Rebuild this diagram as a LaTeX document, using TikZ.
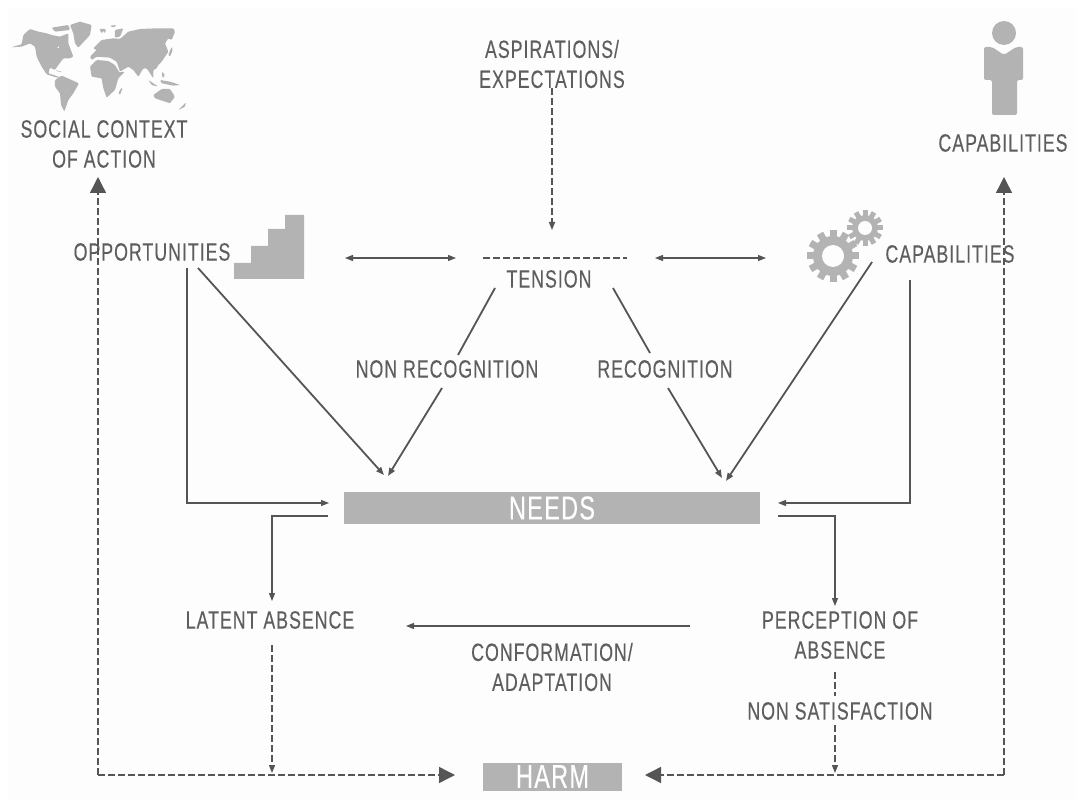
\documentclass[tikz,border=0pt]{standalone}
\usepackage{fontspec}
\setmainfont[FakeStretch=0.71,LetterSpace=4,FakeBold=0.25]{Liberation Sans}
\usetikzlibrary{arrows.meta}
\definecolor{ink}{HTML}{555555}
\definecolor{txt}{HTML}{5E5E5E}
\definecolor{iconc}{HTML}{B3B3B3}
\definecolor{paper}{HTML}{FDFDFD}
\tikzset{
  lab/.style={text=txt,align=center,inner sep=0pt,font=\fontsize{25}{30}\selectfont},
  blk/.style={fill=iconc,draw=none,text=white,inner sep=0pt,font=\fontsize{33}{30}\selectfont},
  thin line/.style={draw=ink,line width=1.2pt},
  heavy line/.style={draw=ink,line width=1.8pt},
  dash line/.style={draw=ink,line width=1.4pt,dash pattern=on 7pt off 3pt},
  small tip/.style={-{Triangle[length=8pt,width=6pt]}},
  both tip/.style={{Triangle[length=8pt,width=6pt]}-{Triangle[length=8pt,width=6pt]}},
  big tip/.style={-{Triangle[length=16pt,width=16pt]}},
  icon/.style={fill=iconc,draw=none,rounded corners=1pt}
}
\begin{document}
\begin{tikzpicture}[x=1pt,y=-1pt]
\useasboundingbox (0,0) rectangle (1076,799);
\fill[white] (0,0) rectangle (1076,799);
\fill[paper] (8,8) rectangle (1076,799);
% bars
\node[blk,minimum width=416pt,minimum height=32pt] (needs) at (552,508) {NEEDS};
\node[blk,minimum width=139pt,minimum height=28pt] (harm) at (552.5,776.5) {HARM};
% map: Americas
\begin{scope}[shift={(5,15)},x=0.3333pt,y=-0.3333pt]
\fill[icon] (18,97)--(50,88)--(55,60)--(75,42)--(100,50)--(125,55)--(140,60)--(165,65)--(190,55)--(190,85)--(205,125)--(195,130)--(175,130)--(160,150)--(150,165)--(135,158)--(130,175)--(155,183)--(170,190)--(150,186)--(125,178)--(110,155)--(95,125)--(90,95)--(75,85)--(50,95)--cycle;
\fill[paper] (160,97) circle (2.6);
\fill[icon] (140,38)--(190,30)--(195,45)--(150,50)--cycle;
\fill[icon] (195,30)--(225,20)--(260,30)--(255,60)--(220,98)--(210,85)--(205,55)--cycle;
\fill[icon] (150,195)--(170,182)--(200,195)--(222,205)--(205,235)--(190,255)--(178,290)--(168,270)--(165,235)--(150,215)--cycle;
\fill[icon] (150,165)--(175,172)--(160,170)--cycle;
\end{scope}
% map: Old World
\begin{scope}[shift={(90,15)},x=0.3333pt,y=-0.3333pt]
\fill[icon] (10,100)--(35,75)--(70,70)--(90,72)--(115,50)--(150,42)--(200,40)--(250,40)--(255,50)--(245,75)--(235,70)--(225,85)--(235,110)--(215,140)--(205,150)--(200,160)--(190,165)--(190,190)--(170,160)--(160,160)--(145,185)--(130,165)--(115,155)--(90,170)--(80,140)--(60,128)--(20,125)--(5,135)--(0,125)--(20,105)--cycle;
\fill[icon] (0,155)--(20,135)--(55,138)--(75,150)--(88,172)--(105,170)--(85,190)--(75,225)--(50,248)--(40,220)--(35,190)--(5,185)--cycle;
\fill[icon] (190,240)--(215,222)--(240,222)--(255,245)--(240,265)--(195,250)--cycle;
\fill[icon] (175,195)--(190,205)--(205,215)--(185,210)--cycle;
\fill[icon] (210,195)--(240,200)--(270,210)--(250,212)--(215,205)--cycle;
\fill[icon] (235,120)--(245,95)--(248,105)--(240,125)--cycle;
\fill[icon] (93,220)--(98,218)--(90,240)--(85,235)--cycle;
\fill[icon] (265,285)--(288,262)--(285,275)--cycle;
\fill[icon] (40,50)--(48,42)--(45,55)--cycle;
\fill[icon] (28,42)--(48,42)--(35,55)--cycle;
\fill[icon] (75,45)--(100,40)--(90,65)--(75,68)--cycle;
\fill[icon] (215,170)--(225,180)--(218,190)--cycle;
\fill[icon] (60,32)--(80,30)--(70,38)--cycle;
\end{scope}
% stairs
\fill[iconc] (234,279)--(234,263)--(251,263)--(251,246)--(268,246)--(268,229)--(285,229)--(285,215)--(304,215)--(304,279)--cycle;
% person
\fill[iconc] (1004,33) circle (12);
\fill[iconc,rounded corners=2pt] (984,47)--(992,47)--(1004,55)--(1016,47)--(1023,47)--(1023,80)--(1017,80)--(1017,115)--(992,115)--(992,80)--(984,80)--cycle;
% gears
\foreach \cx/\cy/\ro/\ri/\rh/\tw in {833/256/26/20/11/7,865/228/18/13/7/5}{
  \fill[iconc] (\cx,\cy) circle (\ri);
  \foreach \a in {0,30,...,330}{
    \fill[iconc,shift={(\cx,\cy)},rotate=\a] (\ri-1,-\tw/2) rectangle (\ro,\tw/2);
  }
  \fill[paper] (\cx,\cy) circle (\rh);
}
% labels
\node[lab] (asp) at (552,64) {ASPIRATIONS/\\EXPECTATIONS};
\node[lab] (social) at (104,144) {SOCIAL CONTEXT\\OF ACTION};
\node[lab] (captop) at (1003,143) {CAPABILITIES};
\node[lab] (opp) at (152,252) {OPPORTUNITIES};
\node[lab] (tension) at (549,279) {TENSION};
\node[lab] (cap) at (950,254) {CAPABILITIES};
\node[lab] (nonrec) at (447,369) {NON RECOGNITION};
\node[lab] (rec) at (665,369) {RECOGNITION};
\node[lab] (latent) at (270,620) {LATENT ABSENCE};
\node[lab] (percep) at (840,635) {PERCEPTION OF\\ABSENCE};
\node[lab] (conf) at (552,667) {CONFORMATION/\\ADAPTATION};
\node[lab] (nonsat) at (840,711) {NON SATISFACTION};
% free-end coordinates
\coordinate (aspS) at (552,88);
\coordinate (tensN) at (552,230);
\coordinate (tl) at (483,258);
\coordinate (tr) at (627,258);
\coordinate (da1) at (345,258);
\coordinate (da2) at (456,258);
\coordinate (da3) at (655,258);
\coordinate (da4) at (766,258);
\coordinate (t1) at (495,288);
\coordinate (t2) at (458,355);
\coordinate (t3) at (442,388);
\coordinate (t4) at (388,476);
\coordinate (u1) at (613,288);
\coordinate (u2) at (650,353);
\coordinate (u3) at (668,388);
\coordinate (u4) at (722,478);
\coordinate (o1) at (198,268);
\coordinate (o2) at (384,475);
\coordinate (o3) at (187,268);
\coordinate (o4) at (187,503);
\coordinate (o5) at (329,503);
\coordinate (c1) at (872,262);
\coordinate (c2) at (726,481);
\coordinate (c3) at (910,280);
\coordinate (c4) at (910,503);
\coordinate (c5) at (778,503);
\coordinate (n1) at (328,516);
\coordinate (n2) at (272,516);
\coordinate (n3) at (272,601);
\coordinate (m1) at (778,516);
\coordinate (m2) at (835,516);
\coordinate (m3) at (835,606);
\coordinate (p1) at (690,626);
\coordinate (p2) at (406,626);
\coordinate (l1) at (272,645);
\coordinate (l2) at (272,773);
\coordinate (q1) at (835,672);
\coordinate (q2) at (835,696);
\coordinate (q3) at (835,725);
\coordinate (q4) at (835,773);
\coordinate (b1) at (98,177);
\coordinate (b2) at (98,775);
\coordinate (b3) at (455,775);
\coordinate (r1) at (1004,177);
\coordinate (r2) at (1004,775);
\coordinate (r3) at (645,775);
% connectors
\draw[dash line,small tip] (aspS) -- (tensN);
\draw[dash line] (tl) -- (tr);
\draw[thin line,both tip] (da1) -- (da2);
\draw[thin line,both tip] (da3) -- (da4);
\draw[heavy line] (t1) -- (t2);
\draw[heavy line,small tip] (t3) -- (t4);
\draw[heavy line] (u1) -- (u2);
\draw[heavy line,small tip] (u3) -- (u4);
\draw[heavy line,small tip] (o1) -- (o2);
\draw[thin line,small tip] (o3) -- (o4) -- (o5);
\draw[heavy line,small tip] (c1) -- (c2);
\draw[thin line,small tip] (c3) -- (c4) -- (c5);
\draw[thin line,small tip] (n1) -- (n2) -- (n3);
\draw[thin line,small tip] (m1) -- (m2) -- (m3);
\draw[thin line,small tip] (p1) -- (p2);
\draw[dash line,small tip] (l1) -- (l2);
\draw[dash line] (q1) -- (q2);
\draw[dash line,small tip] (q3) -- (q4);
\draw[dash line,big tip] (b2) -- (b1);
\draw[dash line,big tip] (b2) -- (b3);
\draw[dash line,big tip] (r2) -- (r1);
\draw[dash line,big tip] (r2) -- (r3);
\end{tikzpicture}
\end{document}
